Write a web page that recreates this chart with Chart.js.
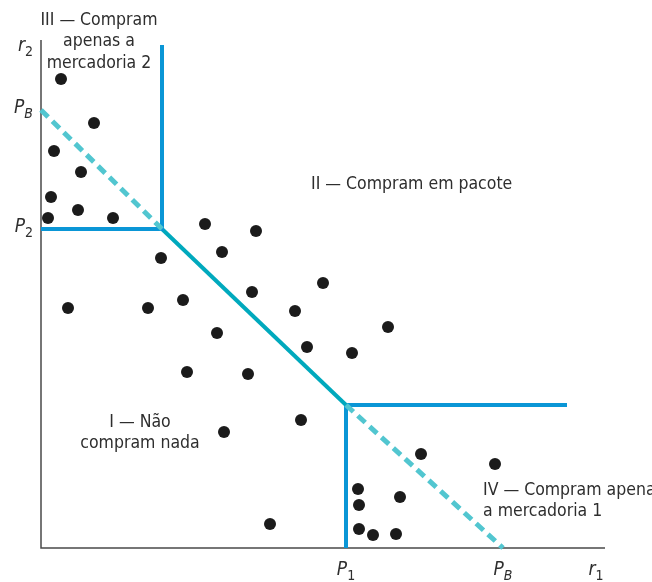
<!DOCTYPE html>
<html>
<head>
<meta charset="utf-8">
<script src="https://cdn.jsdelivr.net/npm/chart.js@4/dist/chart.umd.min.js"></script>
<style>
  html, body { margin: 0; padding: 0; background: #fff; }
  #wrap { width: 652px; height: 582px; position: relative; }
</style>
</head>
<body>
<div id="wrap"><canvas id="chart"></canvas></div>
<script>
// consumers (reservation prices r1, r2)
const consumerR1 = [2.0, 5.3, 1.3, 4.0, 1.0, 3.7, 0.7, 7.2, 16.4, 21.5, 18.1, 12.0, 21.1, 28.2, 14.2, 10.7, 2.7, 25.4,
  17.6, 26.6, 31.1, 34.7, 14.6, 20.7, 26.0, 18.3, 38.0, 45.4, 31.7, 35.9, 31.8, 31.8, 33.2, 35.5, 22.9];
const consumerR2 = [46.9, 42.5, 39.7, 37.6, 35.1, 33.8, 33.0, 33.0, 32.4, 31.7, 29.6, 29.0, 25.6, 26.5, 24.8, 24.0, 24.0, 23.7,
  21.5, 20.1, 19.5, 22.1, 17.6, 17.4, 12.8, 11.6, 9.4, 8.4, 5.9, 5.1, 4.3, 1.9, 1.3, 1.4, 2.4];

// prices
const priceP1 = 30.5;
const priceP2 = 31.9;
const bundleX = 46.2;   // P_B on r1 axis
const bundleY = 43.8;   // P_B on r2 axis
const xMax = 56.4;
const yMax = 50.8;
const lineTopY = 50.3;
const lineRightX = 52.6;
const cornerY = 14.3;

const tickLabels = [
  { axis: 'x', value: priceP1, main: 'P', sub: '1' },
  { axis: 'x', value: bundleX, main: 'P', sub: 'B', subItalic: true },
  { axis: 'x', value: 55.5, main: 'r', sub: '1' },
  { axis: 'y', value: priceP2, main: 'P', sub: '2' },
  { axis: 'y', value: bundleY, main: 'P', sub: 'B', subItalic: true },
  { axis: 'y', value: 50.0, main: 'r', sub: '2' }
];

const regionLabels = [
  { lines: ['III — Compram', 'apenas a', 'mercadoria 2'], x: 5.8, y: 52.8, align: 'center' },
  { lines: ['II — Compram em pacote'], x: 27.0, y: 36.4, align: 'left' },
  { lines: ['I — Não', 'compram nada'], x: 9.9, y: 12.6, align: 'center' },
  { lines: ['IV — Compram apenas', 'a mercadoria 1'], x: 44.2, y: 5.8, align: 'left' }
];

const FONT = '"Liberation Sans Narrow", "DejaVu Sans Condensed", "Liberation Sans", sans-serif';
const BLUE = '#0a96d6';
const TEAL = '#00a9bd';
const DASH = '#52c6d0';

const decor = {
  id: 'decor',
  beforeDatasetsDraw(chart) {
    const { ctx, chartArea: a } = chart;
    ctx.save();
    ctx.strokeStyle = '#4a4a4a';
    ctx.lineWidth = 1.5;
    ctx.beginPath();
    ctx.moveTo(a.left, a.top);
    ctx.lineTo(a.left, a.bottom);
    ctx.lineTo(a.right, a.bottom);
    ctx.stroke();
    ctx.restore();
  },
  afterDraw(chart) {
    const { ctx, scales: { x, y }, chartArea: a } = chart;
    ctx.save();
    ctx.fillStyle = '#2e2e2e';
    // axis tick labels
    tickLabels.forEach(t => {
      const mainFont = 'italic 19px ' + FONT;
      const subFont = (t.subItalic ? 'italic ' : '') + '14px ' + FONT;
      ctx.font = mainFont;
      const mw = ctx.measureText(t.main).width;
      ctx.font = subFont;
      const sw = ctx.measureText(t.sub).width;
      let px, py;
      if (t.axis === 'x') {
        px = x.getPixelForValue(t.value) - (mw + sw) / 2;
        py = a.bottom + 27;
      } else {
        px = a.left - 8 - mw - sw;
        py = y.getPixelForValue(t.value) + 3;
      }
      ctx.textBaseline = 'alphabetic';
      ctx.textAlign = 'left';
      ctx.font = mainFont;
      ctx.fillText(t.main, px, py);
      ctx.font = subFont;
      ctx.fillText(t.sub, px + mw, py + 5);
    });
    // region labels
    ctx.font = '17.5px ' + FONT;
    ctx.textBaseline = 'middle';
    regionLabels.forEach(r => {
      ctx.textAlign = r.align;
      const px = x.getPixelForValue(r.x);
      const py = y.getPixelForValue(r.y);
      r.lines.forEach((line, i) => ctx.fillText(line, px, py + i * 21.5));
    });
    ctx.restore();
  }
};

const seg = (xs, ys) => xs.map((v, i) => ({ x: v, y: ys[i] }));
const lineSet = (data, color, width, dash) => ({
  type: 'line', data, borderColor: color, borderWidth: width, borderDash: dash || [],
  pointRadius: 0, fill: false, tension: 0, borderCapStyle: 'butt', borderJoinStyle: 'miter', clip: false
});

new Chart(document.getElementById('chart'), {
  type: 'scatter',
  data: {
    datasets: [
      lineSet(seg([0, priceP1 - 18.4], [bundleY, priceP2]), DASH, 5, [10, 6]),
      lineSet(seg([priceP1, bundleX], [cornerY, 0]), DASH, 5, [10, 6]),
      lineSet(seg([0, 12.1, 12.1], [priceP2, priceP2, lineTopY]), BLUE, 4),
      lineSet(seg([12.1, priceP1], [priceP2, cornerY]), TEAL, 4),
      lineSet(seg([priceP1, priceP1, lineRightX], [0, cornerY, cornerY]), BLUE, 4),
      {
        type: 'scatter',
        data: seg(consumerR1, consumerR2),
        backgroundColor: '#1b1b1b',
        borderWidth: 0,
        pointRadius: 6,
        clip: false
      }
    ]
  },
  options: {
    responsive: true,
    maintainAspectRatio: false,
    animation: false,
    layout: { padding: { left: 41, top: 40, right: 47, bottom: 34 } },
    plugins: { legend: { display: false }, tooltip: { enabled: false } },
    scales: {
      x: { type: 'linear', display: false, min: 0, max: xMax },
      y: { type: 'linear', display: false, min: 0, max: yMax }
    }
  },
  plugins: [decor]
});
</script>
</body>
</html>
